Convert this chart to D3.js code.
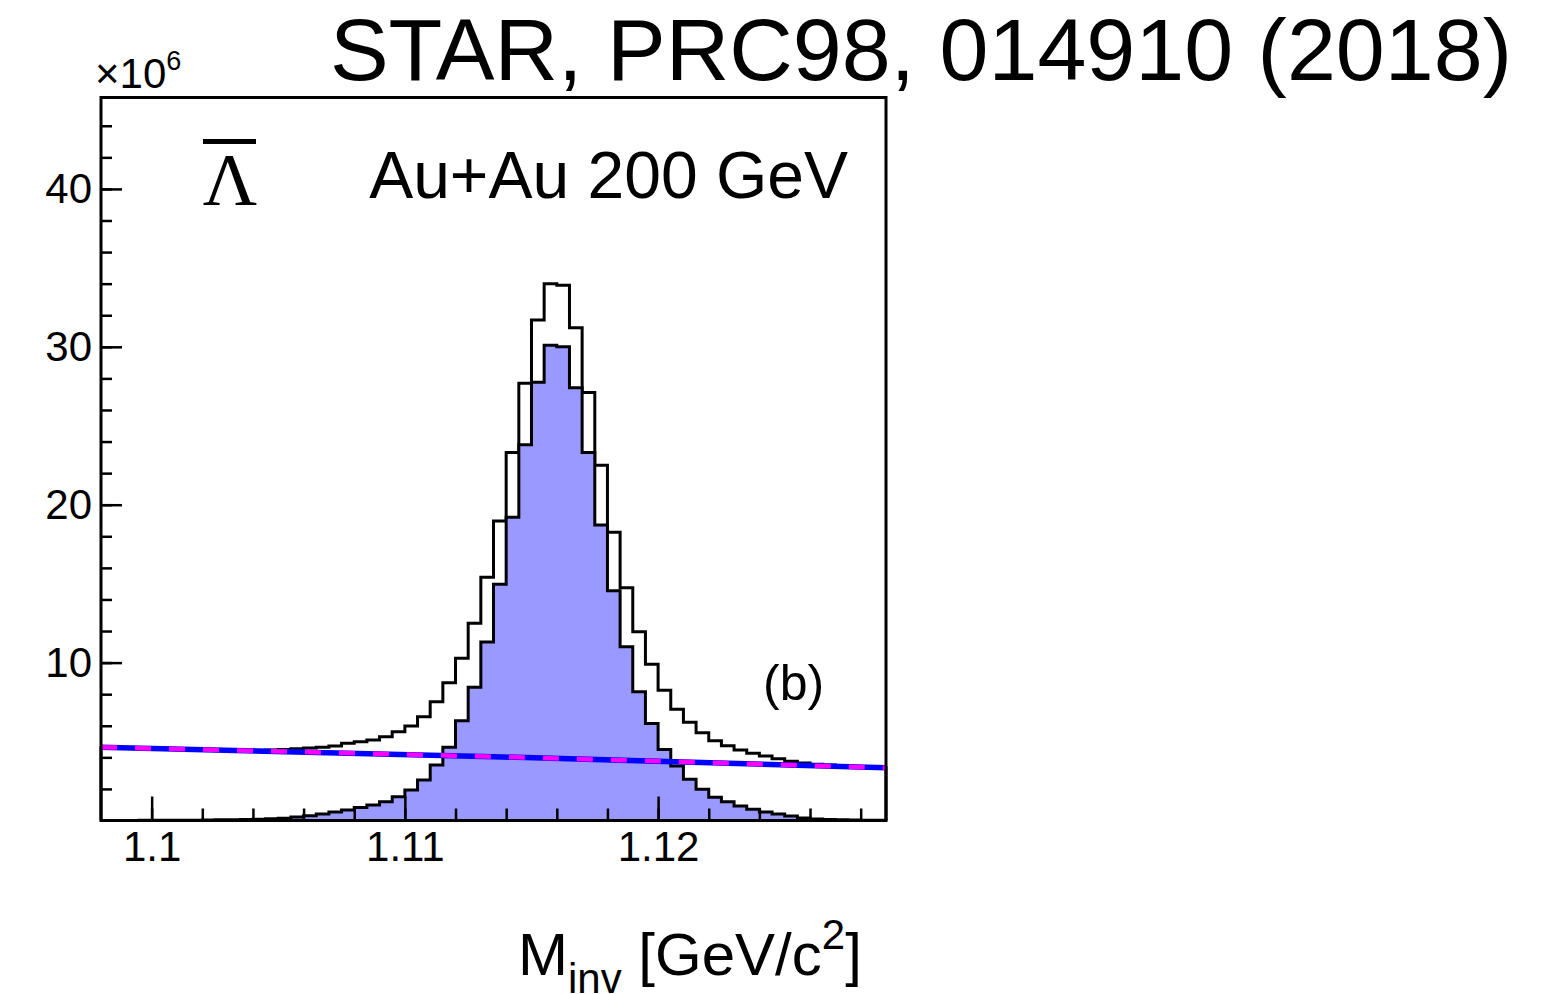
<!DOCTYPE html>
<meta charset="utf-8">
<script src="https://d3js.org/d3.v7.min.js"></script>
<style>
  body { margin: 0; background: #fff; }
  text { font-family: "Liberation Sans", Arial, Helvetica, sans-serif; fill: #000; }
</style>
<div id="chart"></div>
<script>

// histogram binning, GeV/c^2
var xLow = 1.098, binWidth = 0.0005;

// all pairs, per bin, in units of 10^6
var totalCounts = [4.63, 4.61, 4.59, 4.57, 4.55, 4.53, 4.51, 4.49, 4.47, 4.46,
                   4.46, 4.45, 4.45, 4.46, 4.49, 4.54, 4.59, 4.64, 4.72, 4.89,
                   4.99, 5.10, 5.30, 5.62, 5.98, 6.57, 7.52, 8.73, 10.27, 12.5,
                   15.4, 18.97, 23.3, 27.7, 31.7, 34.0, 33.9, 31.2, 27.1, 22.5,
                   18.25, 14.74, 11.96, 9.89, 8.25, 7.04, 6.22, 5.56, 5.05, 4.74,
                   4.46, 4.26, 4.08, 3.91, 3.75, 3.64, 3.57, 3.51, 3.46, 3.42,
                   3.38, 3.35]

// background subtracted signal
var signalCounts = [0, 0, 0, 0.01, 0.01, 0.01, 0.02, 0.02, 0.03, 0.04,
                    0.05, 0.06, 0.08, 0.11, 0.15, 0.22, 0.3, 0.41, 0.54, 0.66,
                    0.83, 0.98, 1.19, 1.51, 1.93, 2.56, 3.52, 4.64, 6.32, 8.44,
                    11.3, 14.96, 19.2, 23.8, 27.75, 30.1, 30.0, 27.4, 23.3, 18.71,
                    14.55, 11.0, 8.16, 6.15, 4.5, 3.45, 2.61, 1.98, 1.47, 1.19,
                    0.92, 0.71, 0.54, 0.41, 0.28, 0.16, 0.1, 0.06, 0.04, 0.03,
                    0.02, 0.01]

// background fit
var bgMass = [1.098, 1.1135, 1.129]
var bgCounts = [4.64, 4.04, 3.34]

var xTickLabels = [1.10, 1.11, 1.12]
var yTickLabels = [10, 20, 30, 40]

// frame
var margin = {top: 97.5, right: 672, bottom: 173.5, left: 101},
    width = 1558 - margin.left - margin.right,
    height = 994 - margin.top - margin.bottom;

var svg = d3.select("#chart")
  .append("svg")
    .attr("width", 1558)
    .attr("height", 994)

svg.append("rect").attr("width", 1558).attr("height", 994).attr("fill", "#fff")

var g = svg.append("g")
    .attr("transform", `translate(${margin.left}, ${margin.top})`);

var nBins = totalCounts.length
var x = d3.scaleLinear()
  .domain([xLow, xLow + nBins * binWidth])
  .range([0, width]);

var y = d3.scaleLinear()
  .domain([0, 45.79])
  .range([height, 0]);

// turn counts into step points
function steps(counts) {
  var pts = [[xLow, 0]]
  counts.forEach(function(c, i) { pts.push([xLow + i * binWidth, c]) })
  pts.push([xLow + nBins * binWidth, counts[nBins - 1]])
  pts.push([xLow + nBins * binWidth, 0])
  return pts
}

var stepLine = d3.line()
  .x(d => x(d[0]))
  .y(d => y(d[1]))
  .curve(d3.curveStepAfter)

var stepArea = d3.area()
  .x(d => x(d[0]))
  .y0(y(0))
  .y1(d => y(d[1]))
  .curve(d3.curveStepAfter)

// total
g.append("path")
  .attr("d", stepLine(steps(totalCounts)))
  .attr("fill", "none")
  .attr("stroke", "#000")
  .attr("stroke-width", 3)

// signal
g.append("path")
  .attr("d", stepArea(steps(signalCounts)))
  .attr("fill", "#9999ff")
g.append("path")
  .attr("d", stepLine(steps(signalCounts)))
  .attr("fill", "none")
  .attr("stroke", "#000")
  .attr("stroke-width", 3)

// background curves
var bgLine = d3.line()
  .x((d, i) => x(bgMass[i]))
  .y(d => y(d))
  .curve(d3.curveNatural)

g.append("path")
  .attr("d", bgLine(bgCounts))
  .attr("fill", "none")
  .attr("stroke", "#0000ff")
  .attr("stroke-width", 5.5)
g.append("path")
  .attr("d", bgLine(bgCounts))
  .attr("fill", "none")
  .attr("stroke", "#ff00ff")
  .attr("stroke-width", 4.5)
  .attr("stroke-dasharray", "16,18")

// x axis
var xMinor = g.append("g")
  .attr("transform", `translate(0, ${height})`)
  .call(d3.axisBottom(x)
    .tickValues(d3.range(0, 15).map(i => 1.1 + i * 0.002))
    .tickSizeInner(-12).tickSizeOuter(0).tickFormat(""))
var xMajor = g.append("g")
  .attr("transform", `translate(0, ${height})`)
  .call(d3.axisBottom(x)
    .tickValues(xTickLabels)
    .tickSizeInner(-24).tickSizeOuter(0).tickPadding(11)
    .tickFormat(d3.format(".2~f")))

// y axis
var yMinor = g.append("g")
  .call(d3.axisLeft(y)
    .tickValues(d3.range(1, 23).map(i => i * 2))
    .tickSizeInner(-11).tickSizeOuter(0).tickFormat(""))
var yMajor = g.append("g")
  .call(d3.axisLeft(y)
    .tickValues(yTickLabels)
    .tickSizeInner(-21).tickSizeOuter(0).tickPadding(9))

g.selectAll(".domain").remove()
g.selectAll(".tick line").attr("stroke", "#000").attr("stroke-width", 2.5)
g.selectAll(".tick text")
  .style("font-family", "'Liberation Sans', Arial, sans-serif")
  .style("font-size", "42px")
  .attr("fill", "#000")
xMajor.selectAll(".tick text").text(d => d == 1.1 ? "1.1" : d3.format(".2f")(d))

// frame
g.append("rect")
  .attr("width", width)
  .attr("height", height)
  .attr("fill", "none")
  .attr("stroke", "#000")
  .attr("stroke-width", 3)

// texts
svg.append("text")
  .attr("x", 1512).attr("y", 80)
  .attr("text-anchor", "end")
  .style("font-size", "88px")
  .text("STAR, PRC98, 014910 (2018)")

var exp = svg.append("text")
  .attr("x", 95).attr("y", 88)
  .style("font-size", "42px")
exp.append("tspan").text("\u00d710")
exp.append("tspan").attr("dy", -18).style("font-size", "27px").text("6")

svg.append("text")
  .attr("x", 848).attr("y", 198)
  .attr("text-anchor", "end")
  .style("font-size", "66px")
  .text("Au+Au 200 GeV")

svg.append("text")
  .attr("x", 230).attr("y", 205)
  .attr("text-anchor", "middle")
  .style("font-family", "'Liberation Serif', 'DejaVu Serif', serif")
  .style("font-size", "75px")
  .text("\u039b")
svg.append("line")
  .attr("x1", 203).attr("x2", 256)
  .attr("y1", 141.5).attr("y2", 141.5)
  .attr("stroke", "#000")
  .attr("stroke-width", 5)

svg.append("text")
  .attr("x", 763).attr("y", 700)
  .style("font-size", "50px")
  .text("(b)")

var xt = svg.append("text")
  .attr("x", 518).attr("y", 975)
  .style("font-size", "60px")
xt.append("tspan").text("M")
xt.append("tspan").attr("dy", 18).style("font-size", "42px").text("inv")
xt.append("tspan").attr("dy", -18).text(" [GeV/c")
xt.append("tspan").attr("dy", -26).style("font-size", "42px").text("2")
xt.append("tspan").attr("dy", 26).text("]")

</script>
